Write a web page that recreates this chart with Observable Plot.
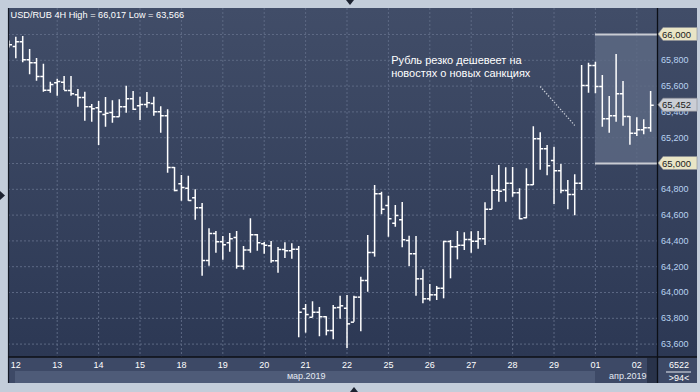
<!DOCTYPE html>
<html><head><meta charset="utf-8">
<script src="https://cdn.jsdelivr.net/npm/d3@7"></script>
<script src="https://cdn.jsdelivr.net/npm/@observablehq/plot@0.6"></script>
<style>
html,body{margin:0;padding:0;background:#c3cdda;}
#chart{position:relative;width:700px;height:392px;overflow:hidden;}
svg{font-family:"Liberation Sans",Arial,sans-serif;}
</style></head><body><div id="chart"></div>
<script>
// USD/RUB 4H bars (index 0 = last bar of 11 March)
const open = [65.930,65.907,65.943,65.804,65.781,65.674,65.568,65.626,65.630,65.566,
65.533,65.512,65.440,65.432,65.380,65.395,65.362,65.440,65.502,65.447,
65.457,65.465,65.401,65.370,64.969,64.843,64.809,64.734,64.657,64.248,
64.457,64.393,64.385,64.426,64.204,64.329,64.447,64.378,64.362,64.246,
64.333,64.323,64.336,63.874,63.808,63.847,63.812,63.705,63.884,63.878,
63.770,63.964,64.093,64.310,64.765,64.674,64.537,64.564,64.403,64.300,
64.106,63.951,63.982,64.033,64.395,64.354,64.367,64.411,64.398,64.416,
64.646,64.793,64.796,64.847,64.773,64.579,64.835,65.191,65.114,65.023,
64.943,64.791,64.760,64.847,65.605,65.760,65.597,65.347,65.370,65.540,
65.364,65.235,65.261,65.277];
const high = [65.950,65.979,65.984,65.884,65.814,65.770,65.630,65.653,65.674,65.674,
65.574,65.553,65.457,65.481,65.512,65.486,65.494,65.599,65.558,65.514,
65.550,65.514,65.440,65.416,64.969,64.907,64.902,64.796,64.690,64.494,
64.473,64.434,64.457,64.473,64.357,64.571,64.450,64.388,64.395,64.349,
64.385,64.378,64.357,63.907,63.928,63.884,63.812,63.899,63.971,63.977,
63.971,64.119,64.442,64.829,64.778,64.747,64.674,64.698,64.436,64.434,
64.176,64.062,64.047,64.398,64.403,64.473,64.463,64.471,64.473,64.695,
64.907,64.984,64.967,64.969,64.804,64.959,65.284,65.238,65.140,65.126,
64.992,64.868,64.912,65.760,65.778,65.785,65.682,65.519,65.845,65.636,
65.364,65.354,65.339,65.558];
const low = [65.895,65.812,65.781,65.688,65.638,65.553,65.545,65.522,65.566,65.522,
65.436,65.328,65.320,65.140,65.281,65.312,65.359,65.390,65.411,65.333,
65.429,65.367,65.235,64.925,64.781,64.708,64.708,64.560,64.126,64.204,
64.305,64.250,64.312,64.181,64.173,64.305,64.320,64.297,64.227,64.150,
64.264,64.258,63.649,63.685,63.804,63.657,63.664,63.633,63.793,63.566,
63.770,63.695,64.002,64.274,64.602,64.429,64.506,64.347,64.202,63.971,
63.912,63.933,63.938,63.951,64.106,64.253,64.326,64.305,64.336,64.364,
64.641,64.700,64.700,64.739,64.564,64.571,64.829,64.948,64.905,64.682,
64.765,64.641,64.595,64.791,65.545,65.540,65.281,65.235,65.320,65.289,
65.142,65.209,65.222,65.243];
const close = [65.920,65.943,65.804,65.781,65.674,65.568,65.612,65.636,65.566,65.540,
65.512,65.440,65.424,65.401,65.390,65.362,65.440,65.502,65.421,65.457,
65.471,65.401,65.370,64.969,64.791,64.814,64.713,64.657,64.248,64.457,
64.393,64.370,64.416,64.204,64.329,64.447,64.385,64.367,64.246,64.333,
64.323,64.336,63.847,63.829,63.847,63.812,63.705,63.881,63.897,63.757,
63.964,64.093,64.310,64.765,64.646,64.571,64.597,64.409,64.300,64.106,
63.951,63.982,64.033,64.395,64.354,64.367,64.411,64.398,64.416,64.646,
64.793,64.785,64.847,64.773,64.571,64.835,65.191,65.114,64.982,64.943,
64.791,64.760,64.847,65.605,65.760,65.597,65.347,65.370,65.540,65.364,
65.235,65.261,65.277,65.452];

const dayIdx = [1,7,13,19,25,31,37,43,49,55,61,67,73,79,85,91];
const dayLabels = ["12","13","14","15","18","19","20","21","22","25","26","27","28","29","01","02"];
const monthAt = [45.9, 92.4];
const monthLabels = ["мар.2019","апр.2019"];
const yTicks = [63.6,63.8,64.0,64.2,64.4,64.6,64.8,65.0,65.2,65.4,65.6,65.8,66.0];
const titleText = "USD/RUB 4H High = 66,017 Low = 63,566";
const noteText = "Рубль резко дешевеет на\nновостях о новых санкциях";
const notePos = {i: 55.4, p: 65.752};
const arrow = {i1: 77.0, p1: 65.597, i2: 82.0, p2: 65.295};
const box = {from: 85, lo: 65.0, hi: 66.0};
const levelTags = [66.0, 65.0];
const lastPrice = 65.452;
const cornerTop = "6522", cornerBottom = ">94<";

const bars = open.map((o, i) => ({i, open: o, high: high[i], low: low[i], close: close[i]}));
const xDomain = [-0.06, 94.07];
const fmt = v => d3.format(".3f")(v).replace(".", ",");
const F = "Liberation Sans, Arial, sans-serif";

const plot = Plot.plot({
  width: 700, height: 392,
  marginLeft: 8, marginRight: 42.5, marginTop: 8, marginBottom: 35,
  style: {background: "transparent", fontFamily: F, overflow: "visible"},
  x: {type: "linear", domain: xDomain},
  y: {type: "linear", domain: [63.4961, 66.2016]},
  marks: [
    Plot.gridY(yTicks, {stroke: "#5d6984", strokeOpacity: 1, strokeDasharray: "2,2"}),
    Plot.gridX(dayIdx.slice(1), {stroke: "#5d6984", strokeOpacity: 1, strokeDasharray: "2,2"}),
    Plot.rect([box], {x1: "from", x2: () => xDomain[1], y1: "lo", y2: "hi", fill: "#5e6a84", fillOpacity: 0.8}),
    Plot.ruleY([box.lo, box.hi], {x1: box.from, x2: xDomain[1], stroke: "#c9ccd3", strokeWidth: 2}),
    Plot.ruleX(bars, {x: "i", y1: "low", y2: "high", stroke: "white", strokeWidth: 1.5, clip: true}),
    Plot.link(bars, {x1: d => d.i - 0.45, x2: "i", y1: "open", y2: "open", stroke: "white", strokeWidth: 1.5, clip: true}),
    Plot.link(bars, {x1: "i", x2: d => d.i + 0.45, y1: "close", y2: "close", stroke: "white", strokeWidth: 1.5, clip: true}),
    Plot.link([arrow], {x1: "i1", y1: "p1", x2: "i2", y2: "p2", stroke: "#c5cad4", strokeWidth: 1.3, strokeDasharray: "1.3,1.7"}),
    Plot.text([noteText], {x: notePos.i, y: notePos.p, text: d => d, textAnchor: "start", lineAnchor: "middle", lineHeight: 1.15, fill: "white", fontSize: 11}),
    Plot.text([titleText], {frameAnchor: "top-left", dx: 2, dy: 7, text: d => d, textAnchor: "start", lineAnchor: "middle", fill: "white", fontSize: 9.2}),
    Plot.axisY(yTicks.filter(v => !levelTags.includes(v)), {anchor: "right", tickSize: 0, tickPadding: 3, tickFormat: fmt, fill: "#b9d3f2", fontSize: 9, label: null}),
    Plot.axisX(dayIdx, {anchor: "bottom", tickSize: 0, tickPadding: 4, tickFormat: d => dayLabels[dayIdx.indexOf(d)], fill: "white", fontSize: 9, label: null}),
    Plot.axisX(monthAt, {anchor: "bottom", tickSize: 0, tickPadding: 15, tickFormat: d => monthLabels[monthAt.indexOf(d)], textAnchor: "end", fill: "#e4eaf3", fontSize: 9, label: null})
  ]
});

document.getElementById("chart").appendChild(plot);
const svg = d3.select(plot);
const y = plot.scale("y");

// background chrome
const g = svg.insert("g", ":first-child");
const defs = svg.insert("defs", ":first-child");
const grad = defs.append("linearGradient").attr("id", "bgGrad").attr("x1", 0).attr("y1", 0).attr("x2", 0).attr("y2", 1);
grad.append("stop").attr("offset", "0%").attr("stop-color", "#414d68");
grad.append("stop").attr("offset", "100%").attr("stop-color", "#2c3854");
g.append("rect").attr("x", 0).attr("y", 0).attr("width", 700).attr("height", 392).attr("fill", "#c3cdda");
g.append("rect").attr("x", 8).attr("y", 8).attr("width", 689).attr("height", 349).attr("fill", "url(#bgGrad)");
g.append("rect").attr("x", 8).attr("y", 357).attr("width", 689).attr("height", 26).attr("fill", "#3d4966");
g.append("rect").attr("x", 15).attr("y", 371).attr("width", 580).attr("height", 12).attr("fill", "#4e5b78");
g.append("rect").attr("x", 647).attr("y", 358).attr("width", 10.5).attr("height", 25).attr("fill", "#29334a");

// foreground chrome
const fg = svg.append("g").attr("text-anchor", "start");
fg.append("line").attr("x1", 8.5).attr("x2", 8.5).attr("y1", 8).attr("y2", 383).attr("stroke", "#141a26").attr("stroke-width", 1.2);
fg.append("line").attr("x1", 657.5).attr("x2", 657.5).attr("y1", 8).attr("y2", 383).attr("stroke", "#0c0f16").attr("stroke-width", 1.3);
fg.append("line").attr("x1", 8).attr("x2", 697).attr("y1", 357).attr("y2", 357).attr("stroke", "#0c0f16").attr("stroke-width", 1.5);
fg.append("line").attr("x1", 666).attr("x2", 691).attr("y1", 372).attr("y2", 372).attr("stroke", "#e8ecf2").attr("stroke-width", 1);
fg.append("text").attr("x", 679).attr("y", 364.5).attr("text-anchor", "middle").attr("dominant-baseline", "central").attr("fill", "white").attr("font-size", 9).text(cornerTop);
fg.append("text").attr("x", 679).attr("y", 378).attr("text-anchor", "middle").attr("dominant-baseline", "central").attr("fill", "white").attr("font-size", 9).text(cornerBottom);
// small window markers
fg.append("path").attr("d", "M346,0 L354,0 L350,5 Z").attr("fill", "#1c2230");
fg.append("path").attr("d", "M0,191 L5,195.5 L0,200 Z").attr("fill", "#1c2230");
fg.append("path").attr("d", "M350,392 L358,392 L354,387 Z").attr("fill", "#1c2230");

// price tags on the right axis
function tag(v, fill) {
  const yy = y.apply(v);
  fg.append("path").attr("d", `M658,${yy} L663,${yy-6.5} L697,${yy-6.5} L697,${yy+6.5} L663,${yy+6.5} Z`)
    .attr("fill", fill).attr("stroke", "#8d8f96").attr("stroke-width", 0.6);
  fg.append("text").attr("x", 662).attr("y", yy).attr("text-anchor", "start").attr("dominant-baseline", "central").attr("fill", "#1a1a1a").attr("font-size", 9.5).text(fmt(v));
}
levelTags.forEach(v => tag(v, "#e9e5c6"));
tag(lastPrice, "#cbced5");
</script></body></html>
